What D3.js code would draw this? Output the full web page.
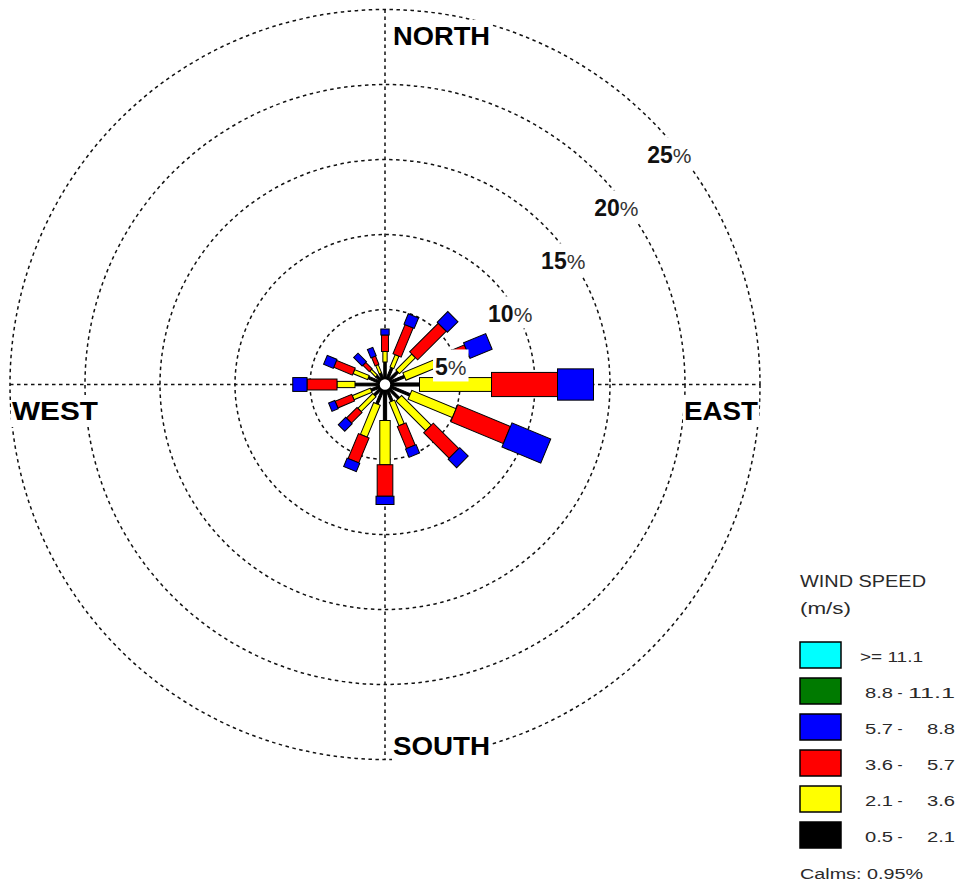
<!DOCTYPE html>
<html>
<head>
<meta charset="utf-8">
<script src="https://cdn.jsdelivr.net/npm/d3@7"></script>
<style>
  body { margin: 0; background: #fff; }
  svg { display: block; }
</style>
</head>
<body>
<svg id="rose" width="957" height="889"></svg>
<script>
// Wind directions, clockwise from north
const directions = ["N", "NNE", "NE", "ENE", "E", "ESE", "SE", "SSE",
                    "S", "SSW", "SW", "WSW", "W", "WNW", "NW", "NNW"];

// Frequency (%) per direction for each wind speed class (m/s)
const speed_05_21  = [1.5, 1.2, 1.2, 1.4, 2.3, 1.8, 1.3, 1.2, 2.4, 1.4, 1.0, 1.0, 2.0, 1.2, 0.8, 0.8];
const speed_21_36  = [0.7, 0.9, 1.5, 2.8, 4.8, 3.2, 2.8, 1.7, 2.95, 2.3, 1.4, 1.3, 1.2, 1.05, 0.55, 0.6];
const speed_36_57  = [1.1, 2.1, 2.7, 1.7, 4.4, 3.8, 2.4, 1.6, 2.1, 1.8, 1.0, 1.2, 2.0, 1.35, 0.6, 0.6];
const speed_57_88  = [0.4, 0.75, 1.0, 1.6, 2.4, 2.8, 0.8, 0.6, 0.55, 0.6, 0.7, 0.45, 0.95, 0.7, 0.8, 0.6];
const speed_88_111 = [0, 0, 0, 0, 0, 0, 0, 0, 0, 0, 0, 0, 0, 0, 0, 0];
const speed_ge_111 = [0, 0, 0, 0, 0, 0, 0, 0, 0, 0, 0, 0, 0, 0, 0, 0];

const classKeys   = ["c1", "c2", "c3", "c4", "c5", "c6"];
const classLow    = ["0.5", "2.1", "3.6", "5.7", "8.8", ">= 11.1"];
const classHigh   = ["2.1", "3.6", "5.7", "8.8", "11.1", ""];
const classColors = ["#000000", "#ffff00", "#ff0000", "#0000ff", "#007a00", "#00ffff"];

const ringTicks = [5, 10, 15, 20, 25];
const compassLabels = ["NORTH", "SOUTH", "WEST", "EAST"];
const calmsPct = 0.95;

// ---------------------------------------------------------------
const svg = d3.select("#rose");
const cx = 385, cy = 384.5;
const R = 375;

const r = d3.scaleLinear().domain([0, 25]).range([0, R]);
const angle = d3.scalePoint().domain(directions).range([0, 337.5]);
const color = d3.scaleOrdinal().domain(classKeys).range(classColors);
// petal width per unit of radius, by speed class (faster = wider)
const widthFactor = d3.scaleOrdinal().domain(classKeys).range([0.09, 0.13, 0.14, 0.15, 0.15, 0.15]);
const petalWidth = d => Math.max(2.5, widthFactor(d.key) * r(d.y1));

const rows = directions.map((d, i) => ({
  dir: d,
  c1: speed_05_21[i], c2: speed_21_36[i], c3: speed_36_57[i],
  c4: speed_57_88[i], c5: speed_88_111[i], c6: speed_ge_111[i]
}));
const stacked = d3.stack().keys(classKeys)(rows);

const plot = svg.append("g").attr("transform", `translate(${cx},${cy})`);

// Percentage rings
plot.append("g").selectAll("circle")
  .data(ringTicks)
  .join("circle")
  .attr("r", d => r(d))
  .attr("fill", "none")
  .attr("stroke", "#111")
  .attr("stroke-width", 1.5)
  .attr("stroke-dasharray", "3.5,3.5");

// Compass cross
const cross = plot.append("g")
  .attr("stroke", "#111").attr("stroke-width", 1.5).attr("stroke-dasharray", "3.5,3.5");
cross.append("line").attr("x1", 0).attr("x2", 0).attr("y1", -r(25)).attr("y2", r(25));
cross.append("line").attr("y1", 0).attr("y2", 0).attr("x1", -r(25)).attr("x2", r(25));

// Petals: one stepped bar per direction, segment width grows with radius
const segs = [];
stacked.forEach(layer => {
  layer.forEach((d, i) => {
    if (d[1] - d[0] > 0) segs.push({ key: layer.key, dir: directions[i], y0: d[0], y1: d[1] });
  });
});

plot.append("g").selectAll("rect")
  .data(segs)
  .join("rect")
  .attr("transform", d => `rotate(${angle(d.dir)})`)
  .attr("x", d => -petalWidth(d) / 2)
  .attr("width", d => petalWidth(d))
  .attr("y", d => -r(d.y1))
  .attr("height", d => r(d.y1) - r(d.y0))
  .attr("fill", d => color(d.key))
  .attr("stroke", "#000")
  .attr("stroke-width", 1);

// Calm circle
plot.append("circle").attr("r", 6).attr("fill", "#fff").attr("stroke", "#000").attr("stroke-width", 1.5);

// Helper: white box behind a text element
function backdrop(textSel, padX, padTop, padBottom) {
  textSel.each(function () {
    const b = this.getBBox();
    d3.select(this.parentNode).insert("rect", () => this)
      .attr("x", b.x - padX).attr("y", b.y - padTop)
      .attr("width", b.width + 2 * padX).attr("height", b.height + padTop + padBottom)
      .attr("fill", "#fff");
  });
}

// Ring labels along the diagonal
const ringLab = plot.append("g").selectAll("g")
  .data(ringTicks)
  .join("g");
const ringText = ringLab.append("text")
  .attr("x", d => r(d) / Math.SQRT2 - 3)
  .attr("y", d => -r(d) / Math.SQRT2 + 36)
  .attr("text-anchor", "start")
  .attr("dominant-baseline", "central")
  .attr("font-family", "Liberation Sans, Arial, sans-serif")
  .attr("font-size", 23)
  .attr("fill", "#111");
ringText.append("tspan").attr("font-weight", "bold").text(d => d);
ringText.append("tspan").attr("font-size", 21).attr("fill", "#333").text("%");
backdrop(ringText, 2, 5, 1);

// Compass labels
const compassPos = {
  NORTH: { x: 8,      y: -R + 35.5, len: 97 },
  SOUTH: { x: 8,      y:  R - 4.5,  len: 97 },
  WEST:  { x: -R + 2, y: 35.5,      len: 86 },
  EAST:  { x: R - 76, y: 35.5,      len: 74 }
};
const compass = plot.append("g").selectAll("g")
  .data(compassLabels)
  .join("g");
const compassText = compass.append("text")
  .attr("x", d => compassPos[d].x)
  .attr("y", d => compassPos[d].y)
  .attr("textLength", d => compassPos[d].len)
  .attr("lengthAdjust", "spacingAndGlyphs")
  .attr("font-family", "Liberation Sans, Arial, sans-serif")
  .attr("font-weight", "bold")
  .attr("font-size", 26)
  .attr("fill", "#000")
  .text(d => d);
backdrop(compassText, 1, 1, 1);

// Legend
const legend = svg.append("g").attr("transform", "translate(800,0)")
  .attr("font-family", "Liberation Sans, Arial, sans-serif")
  .attr("fill", "#2a2a2a");

legend.append("text").attr("x", 0).attr("y", 587).attr("font-size", 16)
  .attr("textLength", 126).attr("lengthAdjust", "spacingAndGlyphs").text("WIND SPEED");
legend.append("text").attr("x", 0).attr("y", 614).attr("font-size", 16)
  .attr("textLength", 51).attr("lengthAdjust", "spacingAndGlyphs").text("(m/s)");

const legendOrder = classKeys.slice().reverse();
const ly = d3.scalePoint().domain(legendOrder).range([642, 822]);

const item = legend.selectAll("g.item")
  .data(legendOrder)
  .join("g").attr("class", "item")
  .attr("transform", d => `translate(0,${ly(d)})`);

item.append("rect")
  .attr("x", 0).attr("y", 0).attr("width", 41).attr("height", 26)
  .attr("fill", d => color(d))
  .attr("stroke", "#000").attr("stroke-width", 1.5);

item.each(function (d) {
  const i = classKeys.indexOf(d);
  const g = d3.select(this);
  const txt = (x, s, len) => g.append("text")
    .attr("x", x).attr("y", 20).attr("font-size", 14)
    .attr("textLength", len).attr("lengthAdjust", "spacingAndGlyphs")
    .text(s);
  if (classHigh[i] === "") {
    txt(60, classLow[i], 63);
  } else {
    txt(65, classLow[i], 28);
    txt(97.5, "-", 5);
    const hiLen = classHigh[i].length === 4 ? 47 : 28;
    txt(155 - hiLen, classHigh[i], hiLen);
  }
});

legend.append("text").attr("x", 0).attr("y", 879).attr("font-size", 14)
  .attr("textLength", 123).attr("lengthAdjust", "spacingAndGlyphs")
  .text(`Calms: ${calmsPct.toFixed(2)}%`);
</script>
</body>
</html>
